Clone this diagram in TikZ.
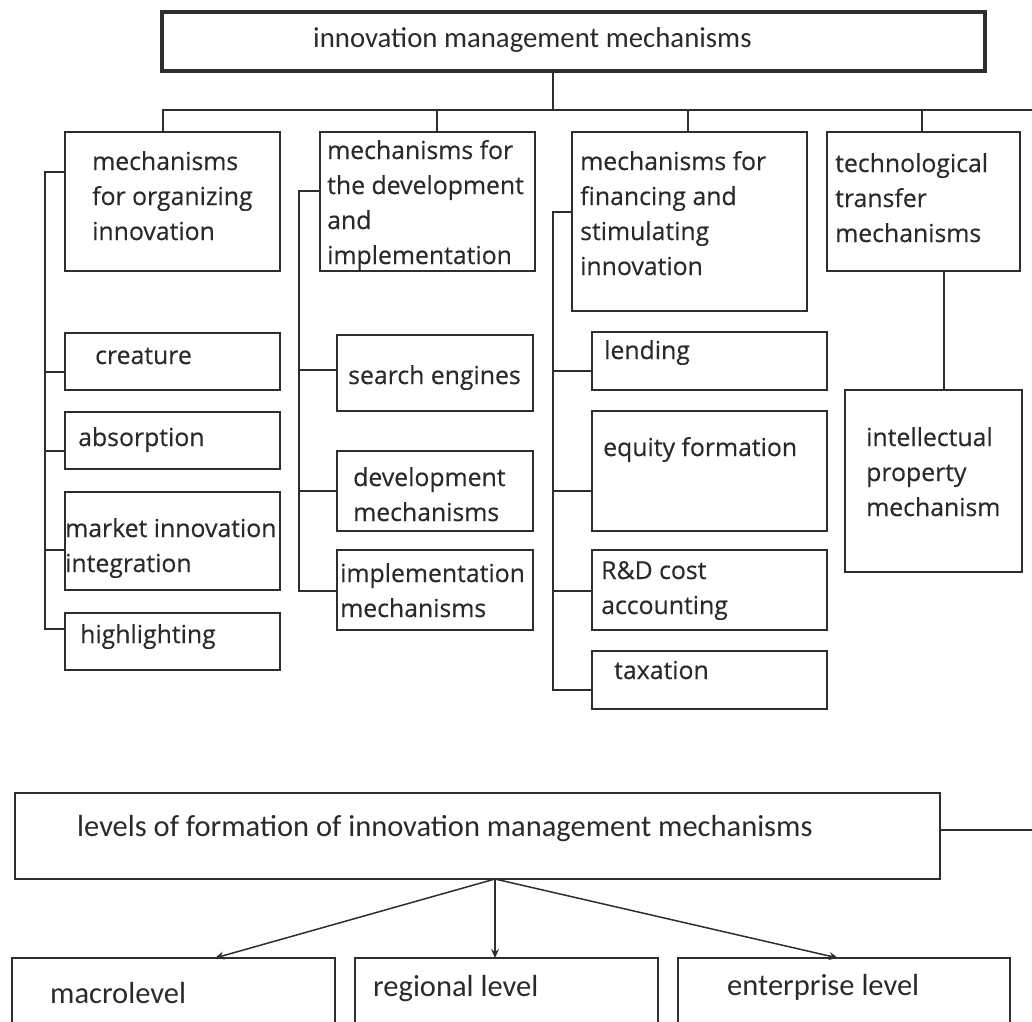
\documentclass[tikz,border=0pt]{standalone}
\usepackage{fontspec}
\setmainfont{Carlito}
\newfontfamily\osans[FakeBold=0.35]{Open Sans}
\usetikzlibrary{arrows.meta}
\definecolor{ln}{HTML}{2E2E2E}
\definecolor{tx}{HTML}{2A2A2A}
\begin{document}
\begin{tikzpicture}[x=1pt,y=-1pt,
  box/.style={draw=ln, line width=1.8pt, rectangle, inner sep=0pt, outer sep=0pt, anchor=north west},
  mid/.style={text=tx, font=\osans\fontsize{24.8}{35}\selectfont, align=left, inner sep=0pt, anchor=base west},
  big/.style={text=tx, font=\fontsize{28.8}{34}\selectfont, align=left, inner sep=0pt, anchor=base west},
  low/.style={text=tx, font=\fontsize{30.5}{34}\selectfont, align=left, inner sep=0pt, anchor=base west},
  con/.style={draw=ln, line width=1.8pt},
  arr/.style={draw=ln, line width=1.5pt, -{Stealth[length=9pt,width=8pt]}}]
\useasboundingbox (0,0) rectangle (1032,1021);
\clip (0,0) rectangle (1032,1021);
% boxes
\node[box, line width=4.5pt, minimum width=823pt, minimum height=59pt] (top) at (162,12) {};
\node[box, minimum width=215pt, minimum height=139pt] (b1) at (65,132) {};
\node[box, minimum width=215pt, minimum height=57pt] (c1) at (65,333) {};
\node[box, minimum width=215pt, minimum height=57pt] (c2) at (65,412) {};
\node[box, minimum width=215pt, minimum height=98pt] (c3) at (65,492) {};
\node[box, minimum width=215pt, minimum height=57pt] (c4) at (65,613) {};
\node[box, minimum width=215pt, minimum height=139pt] (b2) at (320,132) {};
\node[box, minimum width=196pt, minimum height=76pt] (d1) at (337,335) {};
\node[box, minimum width=196pt, minimum height=80pt] (d2) at (337,451) {};
\node[box, minimum width=196pt, minimum height=80pt] (d3) at (337,550) {};
\node[box, minimum width=235pt, minimum height=179pt] (b3) at (572,132) {};
\node[box, minimum width=235pt, minimum height=58pt] (e1) at (592,332) {};
\node[box, minimum width=235pt, minimum height=120pt] (e2) at (592,411) {};
\node[box, minimum width=235pt, minimum height=80pt] (e3) at (592,550) {};
\node[box, minimum width=235pt, minimum height=58pt] (e4) at (592,651) {};
\node[box, minimum width=193pt, minimum height=139pt] (b4) at (827,132) {};
\node[box, minimum width=177pt, minimum height=182pt] (ip) at (845,390) {};
\node[box, minimum width=925pt, minimum height=86pt] (lev) at (15,793) {};
\node[box, minimum width=323pt, minimum height=80pt] (m1) at (12,958) {};
\node[box, minimum width=303pt, minimum height=80pt] (m2) at (355,958) {};
\node[box, minimum width=332pt, minimum height=80pt] (m3) at (678,958) {};
% texts (anchor = baseline of last line)
\node[big] (ttop) at (313,47) {innovation management mechanisms};
\node[mid] (tb1) at (92,240) {mechanisms\\for organizing\\innovation};
\node[mid] (tc1) at (95,364) {creature};
\node[mid] (tc2) at (78,446) {absorption};
\node[mid] (tc3) at (65,572) {market innovation\\integration};
\node[mid] (tc4) at (80,643) {highlighting};
\node[mid] (tb2) at (327,264) {mechanisms for\\the development\\and\\implementation};
\node[mid] (td1) at (348,384) {search engines};
\node[mid] (td2) at (353,521) {development\\mechanisms};
\node[mid] (td3) at (340,617) {implementation\\mechanisms};
\node[mid] (tb3) at (580,275) {mechanisms for\\financing and\\stimulating\\innovation};
\node[mid] (te1) at (604,359) {lending};
\node[mid] (te2) at (603,456) {equity formation};
\node[mid] (te3) at (601,614) {R\&D cost\\accounting};
\node[mid] (te4) at (614,679) {taxation};
\node[mid] (tb4) at (835,242) {technological\\transfer\\mechanisms};
\node[mid] (tip) at (866,516) {intellectual\\property\\mechanism};
\node[low] (tlev) at (77,836) {levels of formation of innovation management mechanisms};
\node[low] (tm1) at (50,1003) {macrolevel};
\node[low] (tm2) at (373,996) {regional level};
\node[low] (tm3) at (727,995) {enterprise level};
% top bus
\coordinate (busR) at (1032,110);
\draw[con] ([xshift=-20.5pt]top.south) -- ++(0,39);
\draw[con] ([xshift=-9.5pt]b1.north) -- ++(0,-22) -- (busR);
\draw[con] ([xshift=9.5pt]b2.north) -- ++(0,-22);
\draw[con] ([xshift=-1.5pt]b3.north) -- ++(0,-22);
\draw[con] ([xshift=-1.5pt]b4.north) -- ++(0,-22);
% column 1
\draw[con] ([yshift=-40pt]b1.north west) -| ([xshift=-20pt,yshift=-16pt]c4.north west) -- ([yshift=-16pt]c4.north west);
\draw[con] ([yshift=-39pt]c1.north west) -- ++(-20,0);
\draw[con] ([yshift=-39pt]c2.north west) -- ++(-20,0);
\draw[con] ([yshift=-58pt]c3.north west) -- ++(-20,0);
% column 2
\draw[con] ([yshift=-59pt]b2.north west) -| ([xshift=-38pt,yshift=-41pt]d3.north west) -- ([yshift=-41pt]d3.north west);
\draw[con] ([yshift=-35pt]d1.north west) -- ++(-38,0);
\draw[con] ([yshift=-40pt]d2.north west) -- ++(-38,0);
% column 3
\draw[con] ([yshift=-80pt]b3.north west) -| ([xshift=-39pt,yshift=-39pt]e4.north west) -- ([yshift=-39pt]e4.north west);
\draw[con] ([yshift=-39pt]e1.north west) -- ++(-39,0);
\draw[con] ([yshift=-80pt]e2.north west) -- ++(-39,0);
\draw[con] ([yshift=-41pt]e3.north west) -- ++(-39,0);
% column 4
\draw[con] ([xshift=20.5pt]b4.south) -- ([xshift=10.5pt]ip.north);
% bottom
\coordinate (levR) at (1032,830);
\draw[con] ([yshift=6pt]lev.east) -- (levR);
\draw[arr] ([xshift=17.5pt]lev.south) -- ([xshift=41.5pt]m1.north);
\draw[arr] ([xshift=17.5pt]lev.south) -- ([xshift=-11.5pt]m2.north);
\draw[arr] ([xshift=17.5pt]lev.south) -- ([xshift=-6pt]m3.north);
\end{tikzpicture}
\end{document}
